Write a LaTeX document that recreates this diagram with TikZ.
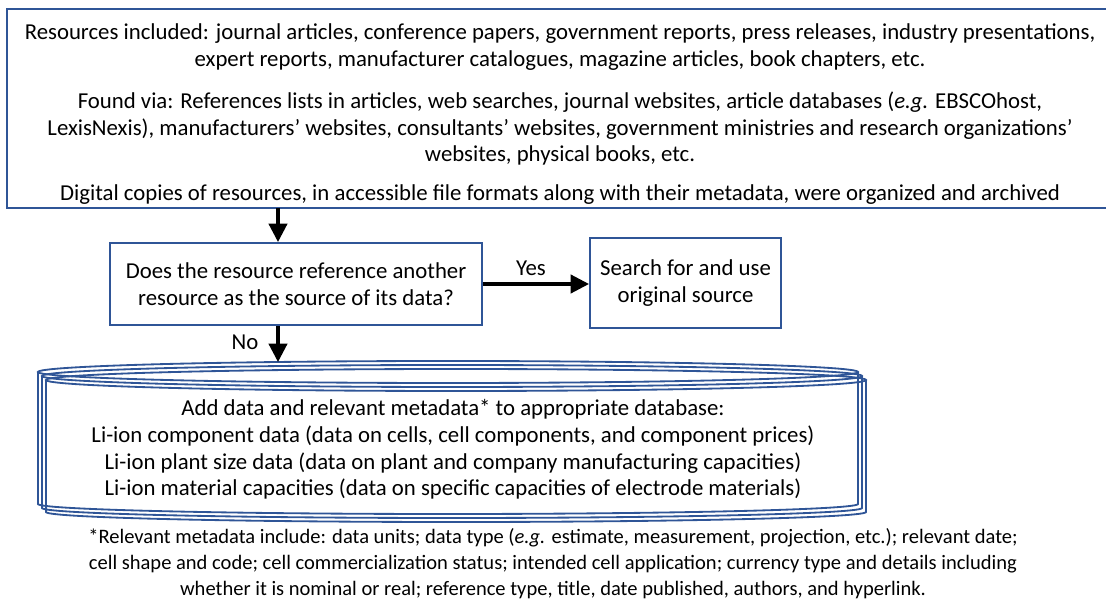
\documentclass[tikz,border=0pt]{standalone}
\usepackage{fontspec}
\setmainfont{Carlito}
\usetikzlibrary{arrows.meta}
\definecolor{boxblue}{RGB}{47,85,151}

\begin{document}
\begin{tikzpicture}[x=0.025cm,y=-0.025cm,font=\fontsize{16.2pt}{19pt}\selectfont]
  \tikzstyle{box}=[draw=boxblue,line width=1.4pt,align=center,inner sep=0pt]
  \tikzstyle{plain}=[align=center,inner sep=1pt]
  \tikzstyle{small}=[font=\fontsize{14.6pt}{18.4pt}\selectfont]
  \tikzstyle{dbline}=[draw=boxblue,line width=1.3pt]
  \tikzstyle{line}=[draw,line width=2.2pt,-{Triangle[length=13pt,width=13pt]}]
  \useasboundingbox (0,0) rectangle (1106,602);

  \node[box,minimum width=27.65cm,minimum height=4.975cm] (sources) at (560,108.5) {};
  \node[plain] (sourcestext) at (560,114)
    {Resources included: journal articles, conference papers, government reports, press releases, industry presentations,\\
     expert reports, manufacturer catalogues, magazine articles, book chapters, etc.\\[11pt]
     Found via: References lists in articles, web searches, journal websites, article databases (\textit{e.g.} EBSCOhost,\\
     LexisNexis), manufacturers’ websites, consultants’ websites, government ministries and research organizations’\\
     websites, physical books, etc.\\[8.5pt]
     Digital copies of resources, in accessible file formats along with their metadata, were organized and archived};

  \node[box,minimum width=9.3cm,minimum height=2.05cm] (question) at (296,284)
    {Does the resource reference another\\ resource as the source of its data?};
  \node[box,minimum width=4.775cm,minimum height=2.25cm] (original) at (685.5,283)
    {Search for and use\\ original source};

  % database (three stacked copies)
  \foreach \d in {0,4,8} {
    \draw[dbline] (38+\d,372+\d) -- (38+\d,504+\d)
      arc[start angle=180,end angle=0,x radius=410,y radius=10] -- (858+\d,372+\d);
    \draw[dbline] (448+\d,372+\d) ellipse[x radius=410,y radius=11];
  }
  \node[plain] (database) at (453,449.5)
    {Add data and relevant metadata* to appropriate database:\\
     Li-ion component data (data on cells, cell components, and component prices)\\
     Li-ion plant size data (data on plant and company manufacturing capacities)\\
     Li-ion material capacities (data on specific capacities of electrode materials)};

  \node[plain,small] (footnote) at (553,564)
    {*Relevant metadata include: data units; data type (\textit{e.g.} estimate, measurement, projection, etc.); relevant date;\\
     cell shape and code; cell commercialization status; intended cell application; currency type and details including\\
     whether it is nominal or real; reference type, title, date published, authors, and hyperlink.};

  % arrows
  \coordinate (tap) at (278,208);
  \coordinate (dbtop) at (278,362);
  \draw[line] (tap) -- (tap |- question.north);
  \draw[line] (tap |- question.south) -- (dbtop);
  \draw[line] (question.east) -- (question.east -| original.west);
  \node[plain] (yes) at (531,268) {Yes};
  \node[plain] (no) at (245,342) {No};

\end{tikzpicture}
\end{document}
